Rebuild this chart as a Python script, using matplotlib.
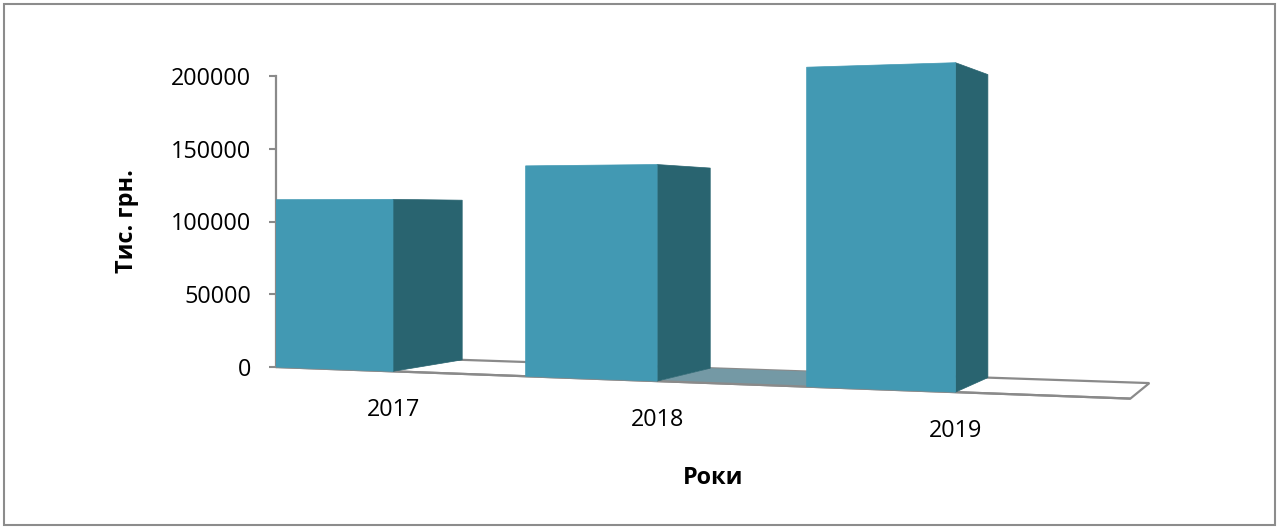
import numpy as np
import matplotlib
matplotlib.use("Agg")
import matplotlib.pyplot as plt
from matplotlib.patches import Polygon, Rectangle

# ---------------- data ----------------
years = ["2017", "2018", "2019"]
values = [115000, 136500, 195000]
yticks = [0, 50000, 100000, 150000, 200000]
y_title = "Тис. грн."
x_title = "Роки"

# ---------------- style / layout ----------------
W, H = 1279, 529
FONT = ["Open Sans", "DejaVu Sans"]
FS = 16.8
FRONT = "#4299b3"
SIDE = "#296470"
FLOOR_SHADE = "#7499a5"
GREY = "#8a8a8a"

# pseudo-3D perspective camera (Excel-like 3D column)
C_X, C_Y, SKEW = 0.027, 0.075, 0.714   # perspective factors
Z_H = 107200                            # horizon level (value units)
BAR_W, STEP, DEPTH = 1.0, 2.07, 1.0
FLOOR_END = 3 * STEP + 0.03

PX_X = 113.85                 # pixels per x unit
PX_V = 291 / 200000           # pixels per value unit
AX_L, AX_R, AX_T, AX_B = 276, 1180, 50, 450
ORIG_V = 367


def proj(X, Y, Z):
    den = 1 - C_X * X + C_Y * Y
    return (X + SKEW * Y) / den, Z_H + (Z - Z_H) / den


def poly(ax, pts, **kw):
    xy = [proj(*p) for p in pts]
    ax.add_patch(Polygon(xy, closed=True, **kw))


plt.rcParams["font.family"] = FONT
fig = plt.figure(figsize=(W / 100, H / 100), dpi=100)
ax = fig.add_axes([AX_L / W, (H - AX_B) / H, (AX_R - AX_L) / W, (AX_B - AX_T) / H])
ax.set_xlim(0, (AX_R - AX_L) / PX_X)
ax.set_ylim((ORIG_V - AX_B) / PX_V, (ORIG_V - AX_T) / PX_V)
ax.patch.set_alpha(0)

# floor
poly(ax, [(0, 0, 0), (FLOOR_END, 0, 0), (FLOOR_END, DEPTH, 0), (0, DEPTH, 0)],
     facecolor="white", edgecolor=GREY, lw=1.6, zorder=1, joinstyle="miter")
# shaded floor part between 2nd and 3rd bars
poly(ax, [(STEP + BAR_W, 0, 0), (2 * STEP, 0, 0), (2 * STEP, DEPTH, 0), (STEP + BAR_W, DEPTH, 0)],
     facecolor=FLOOR_SHADE, edgecolor="none", zorder=1.5)
# redraw floor front edge over shading
fx = [proj(0, 0, 0), proj(FLOOR_END, 0, 0)]
ax.plot([p[0] for p in fx], [p[1] for p in fx], color=GREY, lw=1.6, zorder=1.6,
        solid_capstyle="butt")

# bars
for i, (yr, v) in enumerate(zip(years, values)):
    x0 = i * STEP
    x1 = x0 + BAR_W
    poly(ax, [(x1, 0, 0), (x1, DEPTH, 0), (x1, DEPTH, v), (x1, 0, v)],
         facecolor=SIDE, edgecolor=SIDE, lw=0.5, zorder=3 + i)
    poly(ax, [(x0, 0, 0), (x1, 0, 0), (x1, 0, v), (x0, 0, v)],
         facecolor=FRONT, edgecolor=FRONT, lw=0.5, zorder=3.5 + i)
    lx, ly = proj(x1, 0, 0)
    ax.annotate(yr, (lx, ly), xytext=(0, -39), textcoords="offset pixels",
                ha="center", va="center", fontsize=FS, annotation_clip=False)

# value axis
for s in ["top", "right", "bottom"]:
    ax.spines[s].set_visible(False)
ax.spines["left"].set_bounds(0, 200000)
ax.spines["left"].set_color(GREY)
ax.spines["left"].set_linewidth(1.6)
ax.spines["left"].set_zorder(2)
ax.set_yticks(yticks)
ax.set_yticklabels([str(t) for t in yticks])
ax.tick_params(axis="y", direction="out", length=5, width=1.5, color=GREY,
               labelsize=FS, pad=13)
ax.set_xticks([])

fig.text(127 / W, 1 - 221 / H, y_title, rotation=90, ha="center", va="center",
         fontsize=FS, fontweight="bold")
fig.text(713 / W, 1 - 478 / H, x_title, ha="center", va="center",
         fontsize=FS, fontweight="bold")

fig.add_artist(Rectangle((4 / W, 4 / H), 1271 / W, 521 / H, transform=fig.transFigure,
                         fill=False, edgecolor="#8c8c8c", lw=1.5))

fig.savefig("out.png", dpi=100, facecolor="white")
